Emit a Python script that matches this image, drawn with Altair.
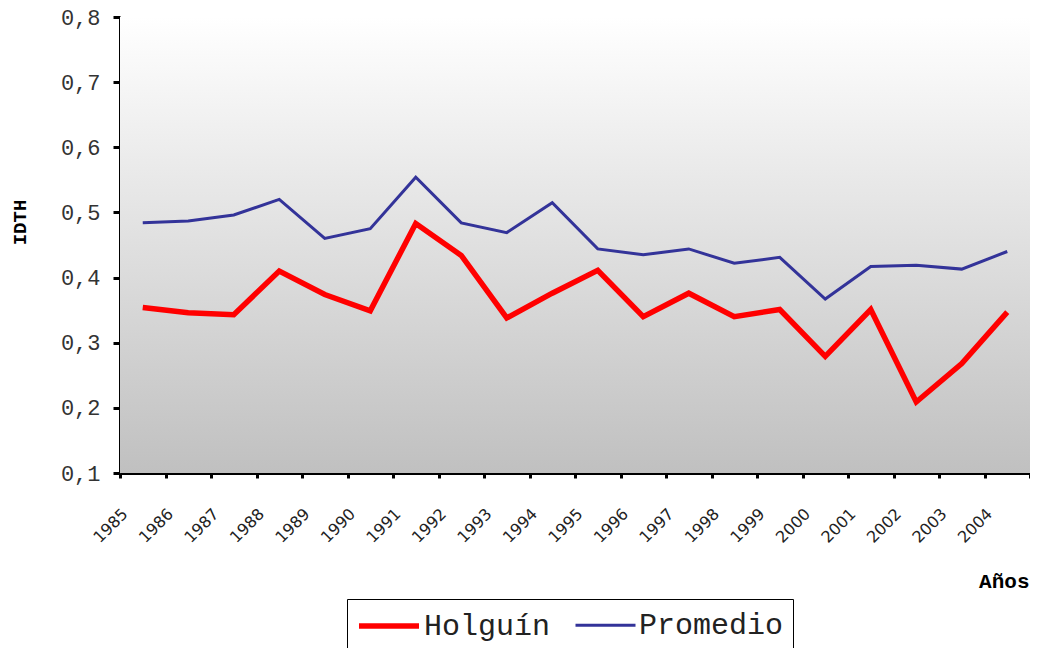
import altair as alt
import pandas as pd

years = [str(y) for y in range(1985, 2005)]
holguin = [0.354, 0.346, 0.343, 0.410, 0.374, 0.349, 0.483, 0.434, 0.338, 0.376,
           0.411, 0.340, 0.376, 0.340, 0.351, 0.279, 0.351, 0.209, 0.268, 0.347]
promedio = [0.484, 0.487, 0.496, 0.520, 0.460, 0.475, 0.554, 0.484, 0.469, 0.515,
            0.444, 0.435, 0.444, 0.422, 0.431, 0.367, 0.417, 0.419, 0.413, 0.440]
series = ["Holguín", "Promedio"]
colors = ["#ff0000", "#333399"]
widths = [5.5, 3]
y_ticks = [0.1, 0.2, 0.3, 0.4, 0.5, 0.6, 0.7, 0.8]

df = pd.DataFrame({
    "year": years * 2,
    "value": holguin + promedio,
    "serie": [series[0]] * len(years) + [series[1]] * len(years),
})

W, H = 910, 456
MONO = "Liberation Mono"

bg = alt.Chart(pd.DataFrame({"a": [0]})).mark_rect(
    color=alt.LinearGradient(
        gradient="linear", x1=0, x2=0, y1=0, y2=1,
        stops=[alt.GradientStop(color="#ffffff", offset=0),
               alt.GradientStop(color="#c0c0c0", offset=1)],
    )
).encode(x=alt.value(0), x2=alt.value(W), y=alt.value(0), y2=alt.value(H))

lines = alt.Chart(df).mark_line(strokeJoin="miter").encode(
    x=alt.X("year:N", bandPosition=0.5,
            scale=alt.Scale(type="band", paddingInner=0, paddingOuter=0),
            axis=alt.Axis(
                title="Años", titleX=W - 1, titleY=108, titleAlign="right",
                titleBaseline="middle", titleAngle=0,
                titleFont=MONO, titleFontSize=21, titleFontWeight="bold", titleColor="black",
                tickBand="extent", tickSize=5, tickWidth=3, tickColor="black",
                domainColor="black", domainWidth=3,
                labelAngle=-45, labelAlign="right", labelBaseline="middle",
                labelOffset=-18, labelPadding=33,
                labelFont="DejaVu Sans", labelFontSize=16, labelColor="#222",
                grid=False,
            )),
    y=alt.Y("value:Q",
            scale=alt.Scale(domain=[0.1, 0.8], nice=False, zero=False),
            axis=alt.Axis(
                title="IDTH", titleX=-101, titleY=205, titleAngle=-90,
                titleAlign="center", titleBaseline="middle",
                titleFont=MONO, titleFontSize=19, titleFontWeight="bold", titleColor="black",
                values=y_ticks,
                labelExpr="replace(format(datum.value, '.1f'), '.', ',')",
                tickSize=7, tickWidth=3, tickColor="black",
                domainColor="black", domainWidth=3,
                labelFont=MONO, labelFontSize=22, labelColor="#333", labelPadding=13,
                grid=False,
            )),
    color=alt.Color("serie:N", scale=alt.Scale(domain=series, range=colors),
                    legend=alt.Legend(
                        title=None, orient="none", legendX=227, legendY=582,
                        direction="horizontal", strokeColor="black", fillColor="white",
                        padding=9, symbolType="M-1,0H3", symbolSize=900,
                        labelFont=MONO, labelFontSize=30, labelColor="#222",
                        labelOffset=32, columnPadding=18,
                    )),
    strokeWidth=alt.StrokeWidth("serie:N", scale=alt.Scale(domain=series, range=widths),
                                legend=None),
)

chart = alt.layer(bg, lines).properties(
    width=W, height=H,
    autosize=alt.AutoSizeParams(type="none"),
    padding={"left": 112, "top": 9, "right": 0, "bottom": 175},
).configure_view(stroke=None)

chart.save("out.html", embed_options={"renderer": "svg", "actions": False})
